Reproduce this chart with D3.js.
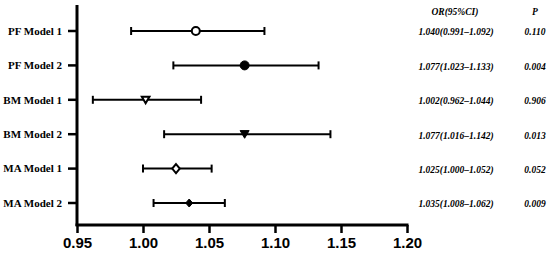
<!DOCTYPE html>
<html>
<head>
<meta charset="utf-8">
<script src="https://cdn.jsdelivr.net/npm/d3@7"></script>
<style>
  body { margin: 0; background: #fff; }
  svg { display: block; }
</style>
</head>
<body>
<svg id="chart" width="550" height="254"></svg>
<script>
// forest plot -- odds ratios with 95% CI

var models = ["PF Model 1", "PF Model 2", "BM Model 1", "BM Model 2", "MA Model 1", "MA Model 2"];
var orValues = [1.040, 1.077, 1.002, 1.077, 1.025, 1.035];
var ciLow = [0.991, 1.023, 0.962, 1.016, 1.000, 1.008];
var ciHigh = [1.092, 1.133, 1.044, 1.142, 1.052, 1.062];
var pValues = ["0.110", "0.004", "0.906", "0.013", "0.052", "0.009"];
var xTicks = [0.95, 1.00, 1.05, 1.10, 1.15, 1.20];
var markers = ["circle", "circle", "triangle", "triangle", "diamond", "diamond"];
var filled = [false, true, false, true, false, true];

var svg = d3.select("#chart");

var x = d3.scaleLinear().domain([0.95, 1.20]).range([77, 407]);
var y = d3.scalePoint().domain(models).range([31, 203]);

// y axis
svg.append("line")
  .attr("x1", 77).attr("x2", 77)
  .attr("y1", 5).attr("y2", 226)
  .attr("stroke", "#000").attr("stroke-width", 3);

svg.selectAll(".ytick").data(models).enter().append("line")
  .attr("x1", 68).attr("x2", 77)
  .attr("y1", function (d) { return y(d); })
  .attr("y2", function (d) { return y(d); })
  .attr("stroke", "#000").attr("stroke-width", 2.5);

svg.selectAll(".ylabel").data(models).enter().append("text")
  .attr("x", 62)
  .attr("y", function (d) { return y(d); })
  .attr("dy", "0.35em")
  .attr("text-anchor", "end")
  .style("font-family", "'Liberation Serif', 'Times New Roman', serif")
  .style("font-weight", "bold")
  .style("font-size", "11px")
  .text(function (d) { return d; });

// x axis
var xAxis = d3.axisBottom(x).tickValues(xTicks)
  .tickFormat(d3.format(".2f")).tickSize(8).tickSizeOuter(0);

var gx = svg.append("g")
  .attr("transform", "translate(0,225)")
  .call(xAxis);
gx.select(".domain").attr("stroke-width", 3).attr("d", "M75.5,0H408.5");
gx.selectAll(".tick line").attr("stroke-width", 2.5);
gx.selectAll(".tick text")
  .attr("y", 12)
  .style("font-family", "'Liberation Sans', Arial, sans-serif")
  .style("font-weight", "bold")
  .style("font-size", "15px")
  .attr("fill", "#000");

// error bars
var rows = models.map(function (m, i) {
  return { name: m, or: orValues[i], lo: ciLow[i], hi: ciHigh[i],
           marker: markers[i], filled: filled[i] };
});

var g = svg.append("g");
g.selectAll(".ci").data(rows).enter().append("line")
  .attr("x1", function (d) { return x(d.lo); })
  .attr("x2", function (d) { return x(d.hi); })
  .attr("y1", function (d) { return y(d.name); })
  .attr("y2", function (d) { return y(d.name); })
  .attr("stroke", "#000").attr("stroke-width", 2);

["lo", "hi"].forEach(function (k) {
  g.selectAll(".cap-" + k).data(rows).enter().append("line")
    .attr("x1", function (d) { return x(d[k]); })
    .attr("x2", function (d) { return x(d[k]); })
    .attr("y1", function (d) { return y(d.name) - 4; })
    .attr("y2", function (d) { return y(d.name) + 4; })
    .attr("stroke", "#000").attr("stroke-width", 2);
});

var shapePath = function (d) {
  if (d.marker === "circle") {
    var r = d.filled ? 4.5 : 4;
    return "M" + (-r) + ",0A" + r + "," + r + " 0 1,0 " + r + ",0A" + r + "," + r + " 0 1,0 " + (-r) + ",0Z";
  }
  if (d.marker === "triangle") {
    var w = d.filled ? 4.5 : 3.8;
    return "M" + (-w) + "," + (-w * 0.8) + "L" + w + "," + (-w * 0.8) + "L0," + (w * 0.9) + "Z";
  }
  var h = d.filled ? 4 : 4.5, hw = d.filled ? 3.5 : 3.8;
  return "M0," + (-h) + "L" + hw + ",0L0," + h + "L" + (-hw) + ",0Z";
};

g.selectAll(".pt").data(rows).enter().append("path")
  .attr("transform", function (d) { return "translate(" + x(d.or) + "," + y(d.name) + ")"; })
  .attr("d", shapePath)
  .attr("fill", function (d) { return d.filled ? "#000" : "#fff"; })
  .attr("stroke", "#000")
  .attr("stroke-width", function (d) { return d.filled ? 1 : 2; });

// table columns
var italic = function (sel) {
  sel.style("font-family", "'Liberation Serif', 'Times New Roman', serif")
    .style("font-weight", "bold")
    .style("font-style", "italic")
    .style("font-size", "9.5px")
    .attr("text-anchor", "middle");
};

svg.append("text").attr("x", 455).attr("y", 12).attr("dy", "0.35em")
  .call(italic).text("OR(95%CI)");
svg.append("text").attr("x", 535).attr("y", 12).attr("dy", "0.35em")
  .call(italic).text("P");

svg.selectAll(".ortext").data(rows).enter().append("text")
  .attr("x", 456)
  .attr("y", function (d) { return y(d.name) + 1; })
  .attr("dy", "0.35em")
  .call(italic)
  .text(function (d) {
    return d.or.toFixed(3) + "(" + d.lo.toFixed(3) + "\u2013" + d.hi.toFixed(3) + ")";
  });

svg.selectAll(".ptext").data(pValues).enter().append("text")
  .attr("x", 535)
  .attr("y", function (d, i) { return y(models[i]) + 1; })
  .attr("dy", "0.35em")
  .call(italic)
  .text(function (d) { return d; });
</script>
</body>
</html>
